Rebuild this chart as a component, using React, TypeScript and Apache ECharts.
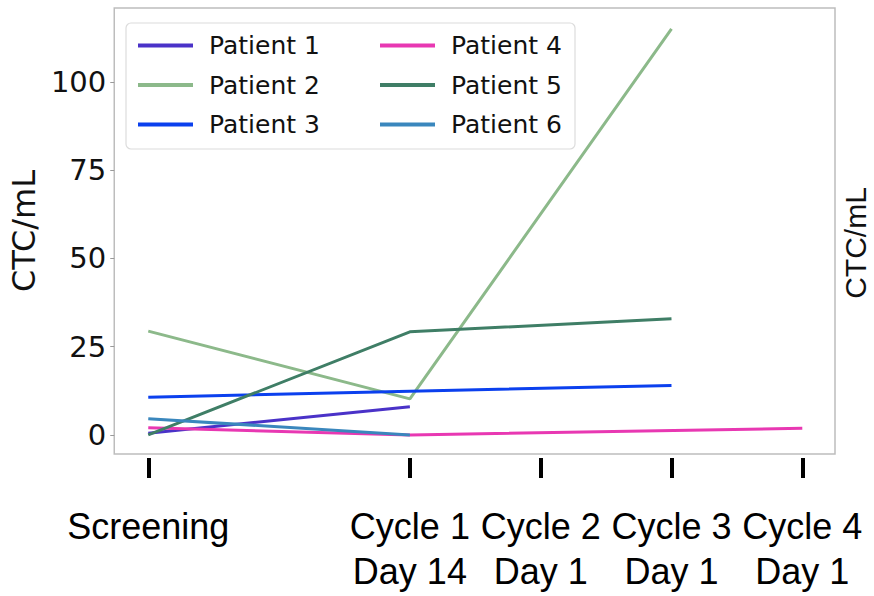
import React, { useEffect, useRef } from "react";
import * as echarts from "echarts";

const timepoints = ["Screening", "Cycle 1\nDay 14", "Cycle 2\nDay 1", "Cycle 3\nDay 1", "Cycle 4\nDay 1"];
const timePositions = [0, 2, 3, 4, 5];
const yTicks = [0, 25, 50, 75, 100];

const patientNames = ["Patient 1", "Patient 2", "Patient 3", "Patient 4", "Patient 5", "Patient 6"];
const patientColors = ["#4a32c8", "#8cb98a", "#0b40ee", "#e838b2", "#3f7e66", "#3a87bd"];

const patient1 = [0.5, 8, null, null, null];
const patient2 = [29.4, 10.2, null, 115, null];
const patient3 = [10.7, 12.4, null, 14, null];
const patient4 = [2, 0, null, null, 1.9];
const patient5 = [0, 29.2, null, 32.9, null];
const patient6 = [4.6, 0, null, null, null];

const patientValues = [patient1, patient2, patient3, patient4, patient5, patient6];

export default function App() {
  const ref = useRef<HTMLDivElement>(null);
  useEffect(() => {
    if (!ref.current) return;
    const chart = echarts.init(ref.current, null, { renderer: "svg" });
    const labelFor = (v: number) => {
      const i = timePositions.indexOf(Math.round(v * 1000) / 1000);
      return i >= 0 ? timepoints[i] : "";
    };
    const series = patientNames.map((name, i) => ({
      name,
      type: "line",
      symbol: "none",
      connectNulls: true,
      lineStyle: { width: 3, color: patientColors[i] },
      itemStyle: { color: patientColors[i] },
      data: patientValues[i]
        .map((v, j) => (v === null ? null : [timePositions[j], v]))
        .filter((d) => d !== null),
    }));
    const legendBase = {
      orient: "vertical",
      top: 28,
      itemWidth: 55,
      itemHeight: 4,
      itemGap: 14.5,
      icon: "rect",
      textStyle: {
        fontFamily: "DejaVu Sans",
        fontSize: 25,
        color: "#111",
        lineHeight: 25,
        padding: [0, 0, 0, 11],
      },
    };
    chart.setOption({
      animation: false,
      backgroundColor: "#ffffff",
      grid: {
        left: 112,
        right: 39,
        top: 8,
        bottom: 142,
        show: true,
        borderColor: "#bdbdbd",
        borderWidth: 1.5,
        backgroundColor: "transparent",
      },
      legend: [
        { ...legendBase, left: 133, data: patientNames.slice(0, 3) },
        { ...legendBase, left: 375, data: patientNames.slice(3, 6) },
      ],
      graphic: [
        {
          type: "rect",
          z: 3,
          shape: { x: 126, y: 23, width: 449, height: 126, r: 5 },
          style: { fill: "rgba(255,255,255,0.9)", stroke: "#dcdcdc", lineWidth: 1.2 },
        },
        {
          type: "text",
          x: 855,
          y: 243,
          rotation: Math.PI / 2,
          style: {
            text: "CTC/mL",
            fontFamily: "Liberation Sans",
            fontSize: 30,
            fill: "#111",
            align: "center",
            verticalAlign: "middle",
          },
        },
      ],
      xAxis: {
        type: "value",
        min: -0.26,
        max: 5.25,
        offset: 4,
        splitLine: { show: false },
        axisLine: { show: false, onZero: false },
        axisTick: {
          show: true,
          customValues: timePositions,
          length: 20,
          lineStyle: { width: 4, color: "#000" },
        },
        axisLabel: {
          customValues: timePositions,
          formatter: (v: number) => labelFor(v),
          fontFamily: "Liberation Sans",
          fontSize: 36,
          lineHeight: 45,
          color: "#000",
          margin: 46,
        },
      },
      yAxis: {
        type: "value",
        min: -5.4,
        max: 120.9,
        name: "CTC/mL",
        nameLocation: "middle",
        nameRotate: 90,
        nameGap: 68,
        nameTextStyle: { fontFamily: "DejaVu Sans", fontSize: 32, color: "#111" },
        splitLine: { show: false },
        axisLine: { show: false, onZero: false },
        axisTick: {
          show: true,
          customValues: yTicks,
          length: 4,
          lineStyle: { color: "#999", width: 1 },
        },
        axisLabel: {
          customValues: yTicks,
          fontFamily: "DejaVu Sans",
          fontSize: 29,
          color: "#111",
          margin: 8,
        },
      },
      series,
    });
    return () => chart.dispose();
  }, []);
  return <div ref={ref} style={{ width: 874, height: 596, position: "absolute", left: 0, top: 0 }} />;
}
